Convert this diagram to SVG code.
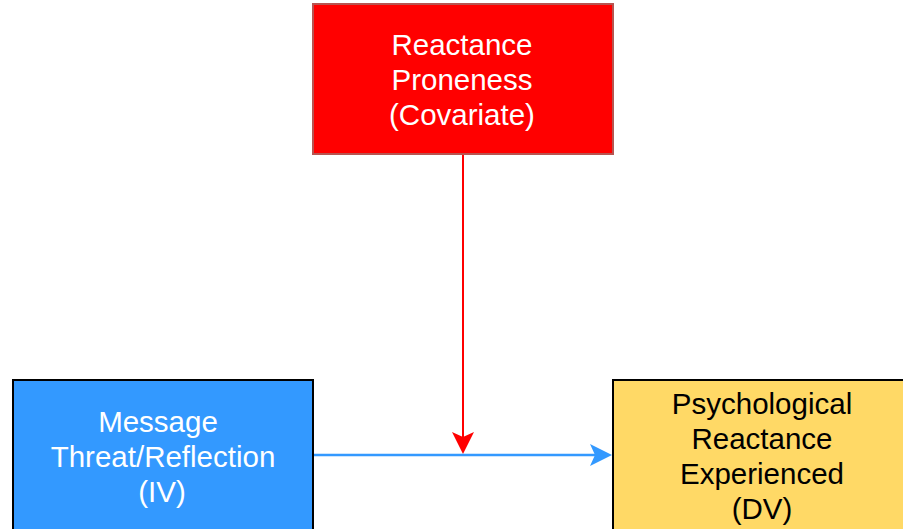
<svg xmlns="http://www.w3.org/2000/svg" width="903" height="529" viewBox="0 0 903 529">
<style>
.lbl{font-family:"Liberation Sans",Arial,sans-serif;font-size:29.5px;text-anchor:middle}
.w{fill:#ffffff}
.k{fill:#000000}
</style>
<rect width="903" height="529" fill="#ffffff"/>
<g id="connectors">
<line x1="463" y1="155" x2="463" y2="440" stroke="#ff0000" stroke-width="2"/>
<path d="M463,454 L452,432 L463,437 L474,432 Z" fill="#ff0000"/>
<line x1="314" y1="455" x2="598" y2="455" stroke="#3399ff" stroke-width="2.5"/>
<path d="M612,455 L590,444 L595,455 L590,466 Z" fill="#3399ff"/>
</g>
<g id="covariate">
<rect x="313" y="4" width="300" height="150" fill="#ff0000" stroke="#b85450" stroke-width="2"/>
<text class="lbl w" x="462" y="55">Reactance</text>
<text class="lbl w" x="462" y="90">Proneness</text>
<text class="lbl w" x="462" y="125">(Covariate)</text>
</g>
<g id="iv">
<rect x="13" y="380" width="300" height="160" fill="#3399ff" stroke="#000000" stroke-width="2"/>
<text class="lbl w" x="158" y="432">Message</text>
<text class="lbl w" x="163" y="467">Threat/Reflection</text>
<text class="lbl w" x="162" y="502">(IV)</text>
</g>
<g id="dv">
<rect x="613" y="380" width="300" height="160" fill="#ffd966" stroke="#000000" stroke-width="2"/>
<text class="lbl k" x="762" y="414">Psychological</text>
<text class="lbl k" x="762" y="449">Reactance</text>
<text class="lbl k" x="762" y="484">Experienced</text>
<text class="lbl k" x="762" y="519">(DV)</text>
</g>
</svg>
